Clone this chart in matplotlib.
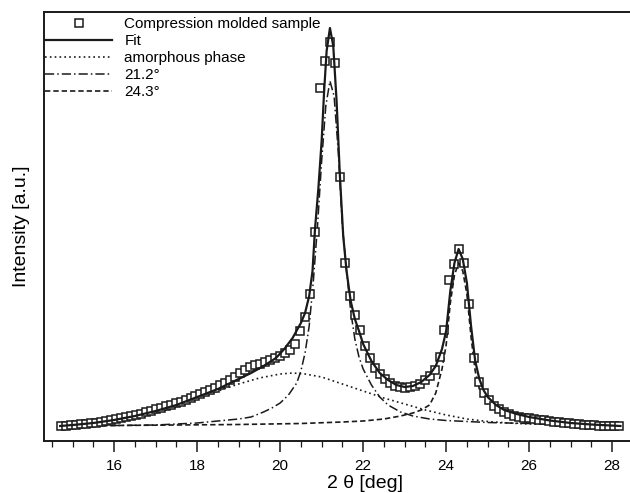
import matplotlib
matplotlib.use("Agg")
import matplotlib.pyplot as plt
import numpy as np

plt.rcParams['font.family'] = ['Liberation Sans', 'DejaVu Sans']

# measured sample (2theta, intensity a.u.)
two_theta = [14.72, 14.84, 14.96, 15.08, 15.20, 15.32, 15.44, 15.56, 15.68, 15.80,
             15.92, 16.04, 16.16, 16.28, 16.40, 16.52, 16.64, 16.76, 16.88, 17.00,
             17.12, 17.24, 17.36, 17.48, 17.60, 17.72, 17.84, 17.96, 18.08, 18.20,
             18.32, 18.44, 18.56, 18.68, 18.80, 18.92, 19.04, 19.16, 19.28, 19.40,
             19.52, 19.64, 19.76, 19.88, 20.00, 20.12, 20.24, 20.36, 20.48, 20.60,
             20.72, 20.84, 20.96, 21.08, 21.20, 21.32, 21.44, 21.56, 21.68, 21.80,
             21.92, 22.04, 22.16, 22.28, 22.40, 22.52, 22.64, 22.76, 22.88, 23.00,
             23.12, 23.24, 23.36, 23.48, 23.60, 23.72, 23.84, 23.96, 24.08, 24.20,
             24.32, 24.44, 24.56, 24.68, 24.80, 24.92, 25.04, 25.16, 25.28, 25.40,
             25.52, 25.64, 25.76, 25.88, 26.00, 26.12, 26.24, 26.36, 26.48, 26.60,
             26.72, 26.84, 26.96, 27.08, 27.20, 27.32, 27.44, 27.56, 27.68, 27.80,
             27.92, 28.04, 28.16]
sample = [15, 15.5, 16, 16.5, 17, 17.5, 18, 18.5, 19.5, 20.5,
          21.5, 22.5, 23.5, 24.5, 25.5, 26.5, 27.5, 29, 30.5, 32,
          33.5, 35, 36.5, 38, 39.5, 41, 43, 45, 47, 49,
          51, 53.5, 56, 58.5, 61, 64, 68, 71, 74, 76,
          77.5, 79, 81, 83, 85.5, 88, 91, 97, 110, 124,
          147, 209, 353, 380, 399, 378, 264, 178, 145, 126,
          111, 95, 83, 73, 67, 62, 58, 55.5, 54, 53.5,
          54, 55, 57.5, 61, 65, 71, 84, 111, 161, 177,
          192, 178, 137, 83, 59, 48, 41, 35, 32, 29,
          27, 25.5, 24.5, 23.5, 22.8, 22, 21.3, 20.6, 20, 19.4,
          18.8, 18.2, 17.7, 17.2, 16.8, 16.4, 16, 15.6, 15.3, 15.1,
          15, 15, 15]

# fit curve
fit_x = [14.7, 15.0, 15.5, 16.0, 16.5, 17.0, 17.5, 18.0, 18.5, 19.0, 19.3, 19.6,
         19.9, 20.1, 20.3, 20.5, 20.6, 20.7, 20.78, 20.84, 20.92, 21.0, 21.06,
         21.12, 21.2, 21.28, 21.36, 21.44, 21.52, 21.6, 21.7, 21.8, 21.9, 22.0,
         22.2, 22.4, 22.6, 22.8, 23.0, 23.2, 23.4, 23.6, 23.75, 23.9, 24.0, 24.1,
         24.2, 24.3, 24.4, 24.5, 24.6, 24.7, 24.8, 24.9, 25.0, 25.2, 25.4, 25.7,
         26.0, 26.5, 27.0, 27.5, 28.2]
fit_y = [15, 16, 18, 21, 25, 30, 36, 44, 52, 62, 68, 75,
         83, 92, 103, 118, 128, 145, 170, 212, 252, 300, 350,
         390, 413, 395, 340, 265, 205, 170, 140, 122, 110, 97,
         80, 68, 61, 56, 54, 55, 59, 66, 75, 92, 110, 150,
         178, 192, 182, 158, 115, 80, 62, 51, 44, 36, 31, 27,
         24, 20.5, 18, 16.5, 15]

# amorphous phase
amor_x = [14.7, 15.5, 16.0, 16.5, 17.0, 17.5, 18.0, 18.5, 19.0, 19.5, 20.0, 20.3,
          20.6, 21.0, 21.5, 22.0, 22.5, 23.0, 23.5, 24.0, 24.5, 25.0, 25.5, 26.0,
          27.0, 28.2]
amor_y = [16, 19, 21, 24, 28, 34, 42, 50, 57, 63, 67, 68,
          67, 64, 57, 50, 43, 37, 31, 26, 22, 19.5, 18, 17,
          16.5, 16]

# crystalline peak 21.2
p212_x = [14.7, 16.0, 17.0, 18.0, 18.5, 19.0, 19.3, 19.6, 19.8, 20.0, 20.2, 20.4,
          20.5, 20.6, 20.7, 20.8, 20.9, 21.0, 21.1, 21.2, 21.3, 21.4, 21.5, 21.6,
          21.7, 21.8, 21.9, 22.0, 22.2, 22.4, 22.6, 22.9, 23.2, 23.6, 24.0, 24.5,
          25.0, 26.0, 27.0, 28.2]
p212_y = [15, 15.5, 16, 18, 20, 22, 24, 29, 33, 38, 46, 58,
          70, 88, 115, 160, 215, 280, 335, 360, 345, 290, 215, 170,
          130, 102, 84, 72, 56, 44, 36, 29, 25, 22, 20.5, 19.5,
          18.5, 17.5, 17, 16.5]

# crystalline peak 24.3
p243_x = [14.7, 16.0, 17.5, 19.0, 20.5, 21.5, 22.0, 22.5, 22.9, 23.2, 23.4, 23.6,
          23.75, 23.9, 24.0, 24.1, 24.2, 24.3, 24.4, 24.5, 24.6, 24.7, 24.8, 25.0,
          25.2, 25.5, 26.0, 26.5, 27.0, 28.2]
p243_y = [15, 15.5, 16, 16.5, 17.5, 19, 20, 22, 25, 28, 31, 36,
          48, 72, 96, 138, 166, 178, 170, 147, 104, 70, 52, 37,
          30, 25, 21, 19, 18, 16.5]

legend_labels = ["Compression molded sample", "Fit", "amorphous phase", "21.2°", "24.3°"]
x_ticks = [16, 18, 20, 22, 24, 26, 28]

ink = "#1a1a1a"
fig = plt.figure(figsize=(6.30, 4.93), dpi=100)
ax = fig.add_axes([44/630, 1-441/493, 1-44/630, (441-12)/493])

ax.plot(two_theta, sample, linestyle="none", marker="s", markersize=5.4,
        markerfacecolor="white", markeredgecolor=ink, markeredgewidth=1.1,
        label=legend_labels[0], zorder=3)
ax.plot(fit_x, fit_y, color=ink, lw=1.6, label=legend_labels[1], zorder=4)
ax.plot(amor_x, amor_y, color=ink, lw=1.2, linestyle=(0, (1, 1.9)),
        label=legend_labels[2], zorder=2)
ax.plot(p212_x, p212_y, color=ink, lw=1.1, linestyle=(0, (6, 2, 1, 2)),
        label=legend_labels[3], zorder=2)
ax.plot(p243_x, p243_y, color=ink, lw=1.2, linestyle=(0, (3.2, 1.8)),
        label=legend_labels[4], zorder=2)

ax.set_xlim(14.31, 28.43)
ax.set_ylim(0, 429)
ax.set_xticks(x_ticks)
ax.set_xticks(np.arange(14.5, 28.5, 0.5), minor=True)
ax.set_yticks([])
ax.tick_params(axis="x", which="major", direction="out", length=8, width=1.1,
               labelsize=11, pad=5, color=ink)
ax.tick_params(axis="x", which="minor", direction="out", length=4, width=0.9, color=ink)
for s in ["left", "bottom", "top"]:
    ax.spines[s].set_linewidth(1.4)
    ax.spines[s].set_color(ink)
ax.spines["right"].set_visible(False)

ax.set_ylabel("Intensity [a.u.]", fontsize=14, labelpad=10)
fig.text(365/630, 1-483/493, "2 θ [deg]", fontsize=14, ha="center", va="center")

leg = ax.legend(loc="upper left", bbox_to_anchor=(45/630, 1-17/493),
                bbox_transform=fig.transFigure, frameon=False, fontsize=11,
                handlelength=4.4, handletextpad=0.8, labelspacing=0.2,
                borderpad=0, borderaxespad=0, numpoints=1)

fig.savefig("out.png", dpi=100)
